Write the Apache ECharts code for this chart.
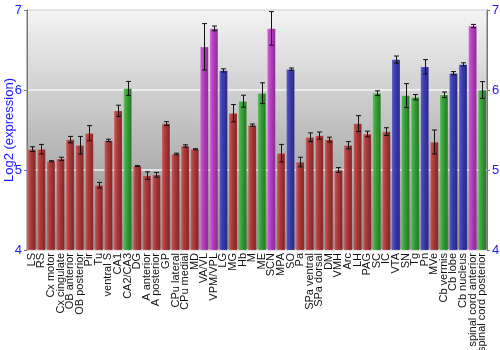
<!DOCTYPE html>
<html><head><meta charset="utf-8">
<script src="https://cdn.jsdelivr.net/npm/echarts@6/dist/echarts.min.js"></script>
<style>html,body{margin:0;padding:0;background:#fff}#c{width:500px;height:350px}</style>
</head><body><div id="c"></div>
<script>
const categories = ["LS","RS","Cx motor","Cx cingulate","OB anterior","OB posterior","Pir","Tu","ventral S","CA1","CA2/CA3","DG","A anterior","A posterior","GP","CPu lateral","CPu medial","MD","VA/VL","VPM/VPL","LG","MG","Hb","M","ME","SCN","MPA","SO","Pa","SPa ventral","SPa dorsal","DM","VMH","Arc","LH","PAG","SC","IC","VTA","SN","Tg","Pn","MVe","Cb vermis","Cb lobe","Cb nucleus","spinal cord anterior","spinal cord posterior"];
const values = [5.26,5.26,5.11,5.14,5.38,5.31,5.46,4.81,5.37,5.74,6.02,5.05,4.93,4.94,5.58,5.20,5.30,5.26,6.54,6.77,6.245,5.71,5.86,5.56,5.96,6.77,5.21,6.26,5.10,5.41,5.43,5.38,5.00,5.31,5.58,5.45,5.96,5.48,6.38,5.93,5.91,6.29,5.35,5.94,6.21,6.32,6.80,6.00];
const errors = [0.03,0.06,0.006,0.02,0.04,0.11,0.095,0.035,0.015,0.07,0.087,0.005,0.047,0.03,0.025,0.01,0.015,0.006,0.29,0.03,0.02,0.108,0.075,0.015,0.13,0.21,0.11,0.015,0.06,0.054,0.045,0.03,0.03,0.045,0.1,0.035,0.03,0.048,0.045,0.15,0.033,0.09,0.15,0.035,0.02,0.02,0.02,0.105];
// group per bar: r=red, g=green, p=purple, b=blue
const groups = ["r","r","r","r","r","r","r","r","r","r","g","r","r","r","r","r","r","r","p","p","b","r","g","r","g","p","r","b","r","r","r","r","r","r","r","r","g","r","b","g","g","b","r","g","b","b","p","g"];
const yTicks = [4,5,6,7];
const yTitle = 'Log2 (expression)';

const palette = {
  r: ['#cc5555','#a83232','#7e1c1c'],
  g: ['#55c055','#2f9a2f','#1d721d'],
  p: ['#d060d8','#b035bb','#86208f'],
  b: ['#5555cc','#3333aa','#20207e']
};
function grad(k){
  const c = palette[k];
  return new echarts.graphic.LinearGradient(0,0,1,0,[
    {offset:0,color:c[0]},{offset:0.45,color:c[1]},{offset:1,color:c[2]}]);
}
const barData = values.map((v,i)=>({value:v,itemStyle:{color:grad(groups[i])}}));
const errData = values.map((v,i)=>[i, v-errors[i], v+errors[i]]);

const chart = echarts.init(document.getElementById('c'), null, {renderer:'canvas'});
const FONT = 'Liberation Sans, Arial, sans-serif';
const axisLabelStyle = {color:'#1a1aff', fontSize:13, fontFamily:FONT};
chart.setOption({
  animation:false,
  grid:{left:27,right:13,top:10,bottom:100,containLabel:false,outerBoundsMode:'none',show:true,borderColor:'#777',borderWidth:1,
    backgroundColor:new echarts.graphic.LinearGradient(0,0,0,1,[{offset:0,color:'#f4f4f4'},{offset:1,color:'#8a8a8a'}])},
  graphic:[{type:'text',x:9,y:130,rotation:Math.PI/2,
    style:{text:yTitle,fill:'#1a1aff',font:'13px '+FONT,textAlign:'center',textVerticalAlign:'middle'}}],
  xAxis:{type:'category',data:categories,
    axisLine:{show:false},axisTick:{show:false},
    axisLabel:{interval:0,rotate:90,color:'#111',fontSize:11,margin:3,fontFamily:FONT}},
  yAxis:[
    {type:'value',min:4,max:7,interval:1,position:'left',
     axisLine:{show:true,lineStyle:{color:'#777'}},axisTick:{show:true,length:3,lineStyle:{color:'#777'}},
     axisLabel:Object.assign({margin:5,formatter:v=>yTicks.includes(v)?String(v):''},axisLabelStyle),
     splitLine:{show:true,lineStyle:{color:'#ffffff',width:1.5,opacity:0.8}}},
    {type:'value',min:4,max:7,interval:1,position:'right',
     axisLine:{show:true,lineStyle:{color:'#777'}},axisTick:{show:true,length:3,lineStyle:{color:'#777'}},
     axisLabel:Object.assign({margin:5,formatter:v=>yTicks.includes(v)?String(v):''},axisLabelStyle),
     splitLine:{show:false}}
  ],
  series:[
    {type:'bar',data:barData,barCategoryGap:'12%',itemStyle:{opacity:0.95,borderColor:'rgba(255,255,255,0.25)',borderWidth:0.5},z:2},
    {type:'custom',data:errData,z:5,
     renderItem:function(params,api){
       const x = api.value(0);
       const lo = api.coord([x, api.value(1)]);
       const hi = api.coord([x, api.value(2)]);
       const cx = Math.round(lo[0])+0.5;
       const hw = 2.5;
       const st = {stroke:'#111',lineWidth:1};
       return {type:'group',children:[
         {type:'line',shape:{x1:cx,y1:lo[1],x2:cx,y2:hi[1]},style:st},
         {type:'line',shape:{x1:cx-hw,y1:lo[1],x2:cx+hw,y2:lo[1]},style:st},
         {type:'line',shape:{x1:cx-hw,y1:hi[1],x2:cx+hw,y2:hi[1]},style:st}
       ]};
     }}
  ]
});
</script></body></html>
